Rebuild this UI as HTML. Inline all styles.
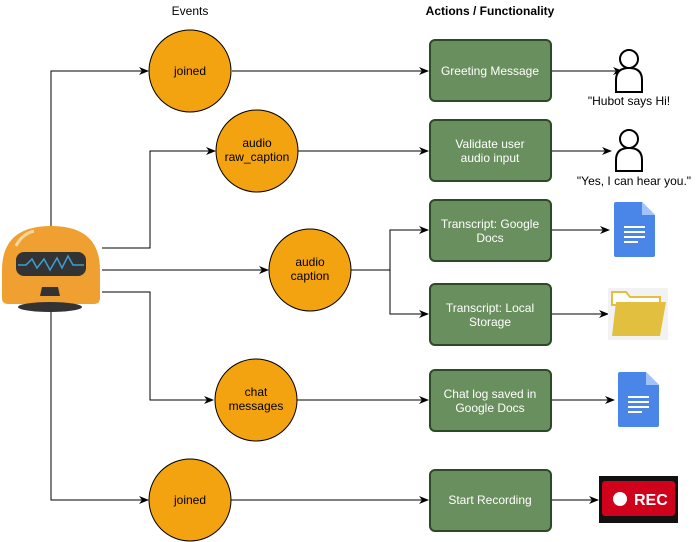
<!DOCTYPE html>
<html><head><style>body{margin:0;background:#fff}svg{display:block}text{font-family:"Liberation Sans",sans-serif;font-size:12px;fill:#000}</style></head><body>
<svg width="698" height="542" viewBox="0 0 698 542" xmlns="http://www.w3.org/2000/svg">
<defs><marker id="a" markerWidth="10" markerHeight="8" refX="9" refY="4" orient="auto" markerUnits="userSpaceOnUse"><path d="M0,0 L10,4 L0,8 L3,4 z" fill="#000"/></marker></defs>
<text x="190" y="15" text-anchor="middle">Events</text>
<text x="490" y="15" text-anchor="middle" font-weight="bold">Actions / Functionality</text>
<g stroke="#000" stroke-width="1" fill="none" marker-end="url(#a)">
<path d="M51,300 V71 H148"/><path d="M51,300 V500 H148"/>
<path d="M102,248 H150 V151 H215"/>
<path d="M102,270 H268"/>
<path d="M102,292 H150 V400 H213"/>
<path d="M232,71 H428"/><path d="M298,151 H428"/>
<path d="M351,270 H390 V230 H428"/><path d="M390,270 V314 H428"/>
<path d="M297,400 H428"/><path d="M231,500 H428"/>
<path d="M551,71 H622"/><path d="M551,151 H611"/><path d="M551,230 H609"/><path d="M551,314 H608"/><path d="M551,400 H614"/><path d="M551,500 H598"/>
</g>
<!-- robot -->
<path d="M2,298 V270 Q2,226 51,226 Q100,226 100,270 V298 Q100,304 94,304 H8 Q2,304 2,298z" fill="#f0a030"/>
<path d="M16,246 Q22,234 34,231" stroke="#fbd7a0" stroke-width="3" fill="none"/>
<rect x="16" y="252" width="70" height="24" rx="8" fill="#333"/>
<path d="M18,265 H26 L32,259 L37,268 L44,259 L50,270 L57,258 L62,268 L68,256 L73,265 H84" stroke="#3aa0d0" stroke-width="1.5" fill="none"/>
<path d="M42,287 H58 L60,296 H40z" fill="#333"/>
<ellipse cx="50" cy="307" rx="32" ry="5" fill="#333"/>
<g fill="#f2a30f" stroke="#000" stroke-width="1">
<circle cx="190" cy="71" r="41"/><circle cx="257" cy="151" r="41"/><circle cx="310" cy="270" r="41"/><circle cx="256" cy="400" r="41"/><circle cx="190" cy="500" r="41"/>
</g>
<g text-anchor="middle">
<text x="190" y="75">joined</text>
<text x="257" y="147">audio</text><text x="257" y="161">raw_caption</text>
<text x="310" y="266">audio</text><text x="310" y="280">caption</text>
<text x="256" y="396">chat</text><text x="256" y="410">messages</text>
<text x="190" y="504">joined</text>
</g>
<g fill="#6a8f5e" stroke="#2d4a27" stroke-width="2">
<rect x="430" y="40" width="121" height="61" rx="5"/><rect x="430" y="120" width="121" height="61" rx="5"/><rect x="430" y="200" width="121" height="61" rx="5"/><rect x="430" y="284" width="121" height="61" rx="5"/><rect x="430" y="370" width="121" height="61" rx="5"/><rect x="430" y="470" width="121" height="61" rx="5"/>
</g>
<g text-anchor="middle">
<text x="490" y="75" style="fill:#fff">Greeting Message</text>
<text x="490" y="148" style="fill:#fff">Validate user</text><text x="490" y="162" style="fill:#fff">audio input</text>
<text x="490" y="228" style="fill:#fff">Transcript: Google</text><text x="490" y="242" style="fill:#fff">Docs</text>
<text x="490" y="312" style="fill:#fff">Transcript: Local</text><text x="490" y="326" style="fill:#fff">Storage</text>
<text x="490" y="398" style="fill:#fff">Chat log saved in</text><text x="490" y="412" style="fill:#fff">Google Docs</text>
<text x="490" y="504" style="fill:#fff">Start Recording</text>
</g>
<g fill="#fff" stroke="#000" stroke-width="2">
<circle cx="629" cy="59" r="9"/><path d="M616,92 V80 Q616,68 629,68 Q642,68 642,80 V92z"/>
<circle cx="629" cy="139" r="9"/><path d="M616,171 V160 Q616,148 629,148 Q642,148 642,160 V171z"/>
</g>
<text x="629" y="105" text-anchor="middle">"Hubot says Hi!</text>
<text x="634" y="185" text-anchor="middle">"Yes, I can hear you."</text>
<g id="d"><path d="M616,202 H642 L655,215 V255 Q655,257 653,257 H616 Q614,257 614,255 V204 Q614,202 616,202z" fill="#4a86e8"/><path d="M642,202 V215 H655z" fill="#a1c2fa"/>
<g stroke="#fff" stroke-width="2"><path d="M624,227 H645 M624,232 H645 M624,237 H645 M624,242 H638"/></g></g>
<use href="#d" x="4" y="170"/>
<rect x="608" y="288" width="60" height="52" fill="#f2f2f2"/>
<path d="M612,292 H626 L630,297 H660 V305 H612z" fill="#fff" stroke="#e2bf3f" stroke-width="2"/>
<path d="M616,302 H666 L660,336 H612z" fill="#e2bf3f"/>
<rect x="599" y="476" width="79" height="47" fill="#111"/>
<rect x="602" y="481" width="73" height="35" rx="3" fill="#d0021b"/>
<circle cx="620" cy="499" r="7" fill="#fff"/>
<text x="634" y="505" style="font-size:16px;font-weight:bold;fill:#fff">REC</text>
</svg>
</body></html>
